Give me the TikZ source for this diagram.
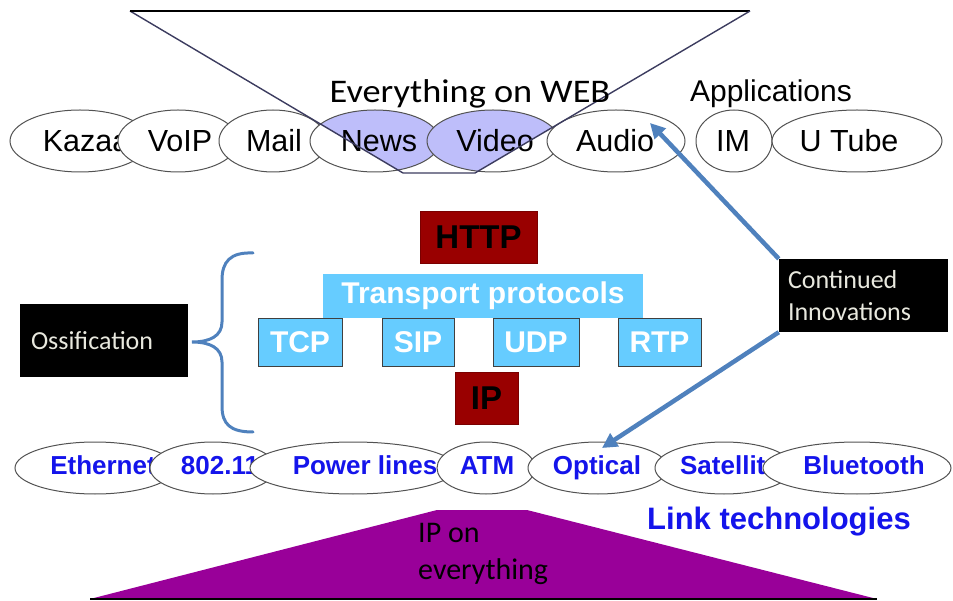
\documentclass[tikz,border=0pt]{standalone}
\usepackage{fontspec}
\usepackage{graphicx}
\setmainfont{Liberation Sans}
\newfontfamily\calib{Carlito}
\usetikzlibrary{shapes.geometric,arrows.meta}
\definecolor{lav}{RGB}{190,190,250}
\definecolor{dred}{RGB}{153,0,0}
\definecolor{tblue}{RGB}{102,204,255}
\definecolor{abl}{RGB}{79,129,189}
\definecolor{purp}{RGB}{153,0,153}
\definecolor{lblue}{RGB}{20,20,235}
\definecolor{fline}{RGB}{60,60,95}
\definecolor{ltxt}{RGB}{232,232,222}
\newcommand\ctxt[2]{\makebox[0pt]{\hspace*{#1}#2}}
\begin{document}
\begin{tikzpicture}[x=1pt,y=-1pt,
  app/.style={ellipse, draw=black!68, line width=1pt, fill=white, inner sep=0pt,
    minimum height=62pt, font=\fontsize{30.5}{36}\selectfont},
  web/.style={app, path picture={\fill[lav] (f1)--(f2)--(f3)--(f4)--cycle;}},
  lnk/.style={ellipse, draw=black!68, line width=1pt, fill=white, inner sep=0pt,
    minimum height=52pt, text=lblue, font=\bfseries\fontsize{26}{30}\selectfont},
  box/.style={rectangle, inner sep=0pt},
  proto/.style={box, fill=tblue, draw=black!75, line width=0.8pt, minimum height=48pt,
    text=white, font=\bfseries\fontsize{30}{36}\selectfont},
  redbox/.style={box, fill=dred, draw=dred!80!black, line width=0.8pt, minimum height=52pt,
    font=\bfseries\fontsize{33}{40}\selectfont},
  blk/.style={box, fill=black, text=ltxt, font=\calib\fontsize{26}{32}\selectfont,
    minimum height=73pt, align=left},
  arr/.style={draw=abl, line width=4.5pt, -{Triangle[length=15pt,width=15pt]}},
  bracestyle/.style={draw=abl, line width=3pt, line cap=round}
]
\useasboundingbox (0,0) rectangle (953,601);

% funnel corners
\coordinate (f1) at (130,11);
\coordinate (f2) at (750,11);
\coordinate (f3) at (475,173);
\coordinate (f4) at (403,173);

% application ellipses
\node[app, minimum width=140pt] (kazaa) at (80,141) {\ctxt{12pt}{Kazaa}};
\node[app, minimum width=120pt] (voip) at (178,141) {\ctxt{4pt}{VoIP}};
\node[app, minimum width=108pt] (mail) at (273,141) {\ctxt{2pt}{Mail}};
\node[web, minimum width=130pt] (news) at (375,141) {\ctxt{8pt}{News}};
\node[web, minimum width=132pt] (video) at (493,141) {\ctxt{4pt}{Video}};
\node[app, minimum width=138pt] (audio) at (616,141) {\ctxt{-2pt}{Audio}};
\node[app, minimum width=76pt] (im) at (734,141) {\ctxt{-2pt}{IM}};
\node[app, minimum width=170pt] (utube) at (857,141) {\ctxt{-16pt}{U Tube}};

% funnel outline
\draw[fline, line width=1.4pt] (f4) -- (f1);
\draw[black, line width=1.6pt] (f1) -- (f2);
\draw[fline, line width=1.4pt] (f2) -- (f3) -- (f4);

\node[font=\calib\fontsize{33}{40}\selectfont, anchor=base, inner sep=0pt] (webtxt)
  at (470,103) {\scalebox{1.1}[1]{Everything on WEB}};
\node[font=\fontsize{30}{36}\selectfont, anchor=base, inner sep=0pt] (apps)
  at (771,102) {Applications};

% protocol stack
\node[redbox, minimum width=117pt] (http) at (478.5,237) {HTTP};
\node[proto, minimum width=84pt] (tcp) at (300,342) {TCP};
\node[proto, minimum width=72pt] (sip) at (418,342) {SIP};
\node[proto, minimum width=86pt] (udp) at (536,342) {UDP};
\node[proto, minimum width=83pt] (rtp) at (659.5,342) {RTP};
\node[box, fill=tblue, minimum width=320pt, minimum height=44pt, text=white,
  font=\bfseries\fontsize{30}{36}\selectfont] (transport) at (483,296)
  {\raisebox{-3pt}{Transport protocols}};
\node[redbox, minimum width=63pt] (ip) at (486.5,398) {IP};

% side boxes
\node[blk, minimum width=168pt, text width=146pt] (oss) at (104,340.5) {Ossification};
\node[blk, minimum width=169pt, text width=151pt] (ci) at (863.5,295.5) {Continued\\Innovations};

% brace
\draw[bracestyle] (253,253) .. controls (230,252) and (222,262) .. (222,280)
  -- (222,322) .. controls (222,336) and (210,342) .. (192,342)
  .. controls (210,342) and (222,348) .. (222,362)
  -- (222,406) .. controls (222,424) and (230,432) .. (253,432);

% IP on everything
\fill[purp] (90,599) -- (437,510) -- (527,510) -- (877,599) -- cycle;
\draw[black, line width=1.5pt] (90,599) -- (877,599);
\node[anchor=north west, inner sep=0pt, align=left,
  font=\calib\fontsize{30}{37}\selectfont] (ipe) at (418,523) {IP on\\everything};

% link technologies
\node[lnk, minimum width=160pt] (eth) at (95,468) {\ctxt{16pt}{Ethernet}\vphantom{p}};
\node[lnk, minimum width=126pt] (wifi) at (213,468) {\ctxt{14pt}{802.11}\vphantom{p}};
\node[lnk, minimum width=206pt] (power) at (353,468) {\ctxt{24pt}{Power lines}\vphantom{p}};
\node[lnk, minimum width=98pt] (atm) at (486,468) {\ctxt{2pt}{ATM}\vphantom{p}};
\node[lnk, minimum width=140pt] (optical) at (598,468) {\ctxt{-2pt}{Optical}\vphantom{p}};
\node[lnk, minimum width=138pt] (sat) at (724,468) {\ctxt{12pt}{Satellite}\vphantom{p}};
\node[lnk, minimum width=188pt] (bt) at (857,468) {\ctxt{14pt}{Bluetooth}\vphantom{p}};
\node[text=lblue, font=\bfseries\fontsize{31}{36}\selectfont, anchor=base, inner sep=0pt]
  (linktxt) at (779,529) {Link technologies};

% innovation arrows
\coordinate (a1) at (650,123);
\coordinate (a2) at (602,448);
\draw[arr] (ci.north west) -- (a1);
\draw[arr] (ci.south west) -- (a2);
\end{tikzpicture}
\end{document}
